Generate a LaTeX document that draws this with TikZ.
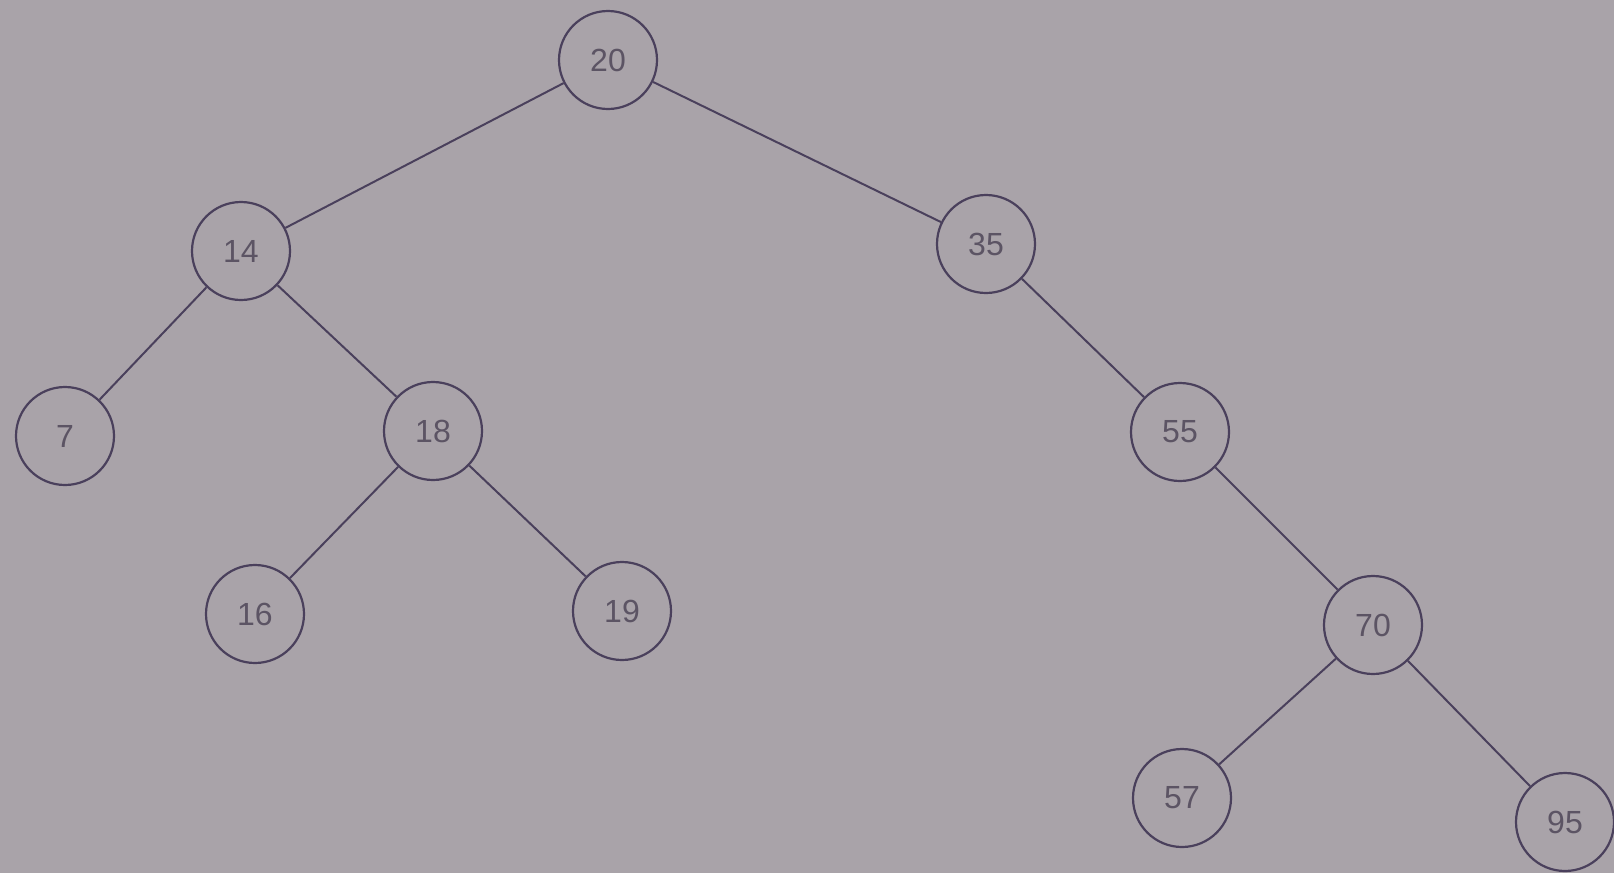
\documentclass[tikz,border=0pt]{standalone}
\usepackage{fontspec}
\setmainfont{Liberation Sans}
\definecolor{paper}{HTML}{A9A3A9}
\definecolor{ink}{HTML}{4A405C}
\definecolor{digit}{HTML}{5C5464}
\begin{document}
\begin{tikzpicture}[x=1pt,y=-1pt,
  key/.style={circle,draw=ink,line width=2.2pt,minimum size=98pt,inner sep=0pt,
              text=digit,font=\fontsize{32}{32}\selectfont},
  edge/.style={ink,line width=2pt}]
  \fill[paper] (0,0) rectangle (1614,873);
  \useasboundingbox (0,0) rectangle (1614,873);
  % keys of the search tree
  \node[key] (n20) at (608,60)  {20};
  \node[key] (n14) at (241,251) {14};
  \node[key] (n35) at (986,244) {35};
  \node[key] (n7)  at (65,436)  {7};
  \node[key] (n18) at (433,431) {18};
  \node[key] (n55) at (1180,432) {55};
  \node[key] (n16) at (255,614) {16};
  \node[key] (n19) at (622,611) {19};
  \node[key] (n70) at (1373,625) {70};
  \node[key] (n57) at (1182,798) {57};
  \node[key] (n95) at (1565,822) {95};
  % parent-child links
  \draw[edge] (n20) -- (n14);
  \draw[edge] (n20) -- (n35);
  \draw[edge] (n14) -- (n7);
  \draw[edge] (n14) -- (n18);
  \draw[edge] (n18) -- (n16);
  \draw[edge] (n18) -- (n19);
  \draw[edge] (n35) -- (n55);
  \draw[edge] (n55) -- (n70);
  \draw[edge] (n70) -- (n57);
  \draw[edge] (n70) -- (n95);
\end{tikzpicture}
\end{document}
